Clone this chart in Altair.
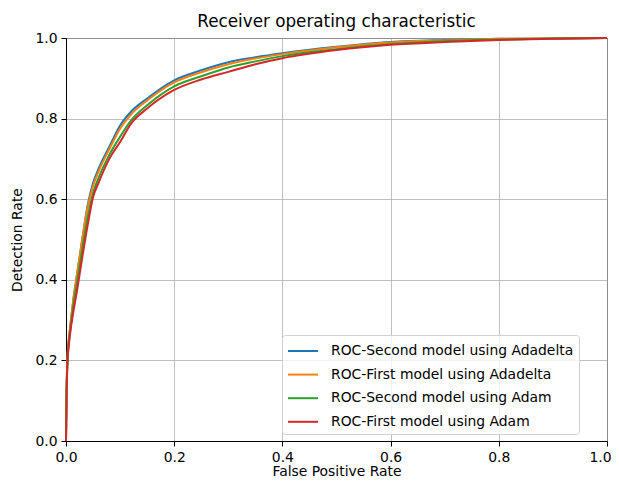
import altair as alt
import pandas as pd

fpr = [0, 0.001, 0.0025, 0.005, 0.0075, 0.01, 0.0135, 0.02, 0.03, 0.04, 0.05, 0.06, 0.08,
       0.10, 0.12, 0.15, 0.2, 0.25, 0.3, 0.35, 0.4, 0.5, 0.6, 0.7, 0.8, 0.9, 1.0]
tpr_second_adadelta = [0, 0.12, 0.20, 0.25, 0.28, 0.31, 0.35, 0.41, 0.50, 0.585, 0.64, 0.675, 0.73,
                       0.783, 0.817, 0.85, 0.895, 0.92, 0.94, 0.952, 0.962, 0.978, 0.99, 0.995,
                       0.998, 0.999, 1.0]
tpr_first_adadelta = [0, 0.12, 0.20, 0.25, 0.28, 0.31, 0.35, 0.41, 0.50, 0.58, 0.632, 0.668, 0.724,
                      0.775, 0.81, 0.845, 0.89, 0.915, 0.935, 0.949, 0.96, 0.977, 0.989, 0.994,
                      0.998, 0.999, 1.0]
tpr_second_adam = [0, 0.11, 0.19, 0.24, 0.27, 0.30, 0.335, 0.39, 0.475, 0.555, 0.615, 0.652, 0.71,
                   0.755, 0.795, 0.833, 0.88, 0.905, 0.927, 0.942, 0.955, 0.972, 0.985, 0.992,
                   0.996, 0.999, 1.0]
tpr_first_adam = [0, 0.11, 0.19, 0.235, 0.265, 0.29, 0.32, 0.37, 0.455, 0.535, 0.605, 0.64, 0.70,
                  0.742, 0.787, 0.825, 0.871, 0.897, 0.916, 0.935, 0.95, 0.97, 0.983, 0.99,
                  0.995, 0.998, 1.0]

series_names = ["ROC-Second model using Adadelta", "ROC-First model using Adadelta",
                "ROC-Second model using Adam", "ROC-First model using Adam"]
series_colors = ["#1f77b4", "#ff7f0e", "#2ca02c", "#d62728"]
series_values = [tpr_second_adadelta, tpr_first_adadelta, tpr_second_adam, tpr_first_adam]
tick_values = [0, 0.2, 0.4, 0.6, 0.8, 1.0]

rows = []
for name, vals in zip(series_names, series_values):
    for x, y in zip(fpr, vals):
        rows.append({"series": name, "fpr": x, "tpr": y})
df = pd.DataFrame(rows)

FONT = "DejaVu Sans"

x_enc = alt.X("fpr:Q", title="False Positive Rate",
              scale=alt.Scale(domain=[0, 1], nice=False, zero=False),
              axis=alt.Axis(values=tick_values, format=".1f", labelFlush=False,
                            labelAlign=alt.condition("datum.value == 1", alt.value("right"), alt.value("center")),
                            labelOffset=alt.condition("datum.value == 1", alt.value(4), alt.value(0))))
y_enc = alt.Y("tpr:Q", title="Detection Rate",
              scale=alt.Scale(domain=[0, 1], nice=False, zero=False),
              axis=alt.Axis(values=tick_values, format=".1f", labelFlush=False))
color_enc = alt.Color("series:N", sort=series_names,
                      scale=alt.Scale(domain=series_names, range=series_colors),
                      legend=alt.Legend(title=None, orient="none", legendX=216, legendY=297,
                                        symbolType="M-1,0L2,0", symbolSize=400,
                                        symbolStrokeWidth=2, labelLimit=0,
                                        labelFont=FONT, labelFontSize=13.9, labelColor="black",
                                        fillColor="rgba(255,255,255,0.8)", strokeColor="#d0d0d0",
                                        cornerRadius=3, padding=5, rowPadding=5.6, labelOffset=22))

layers = []
for name in series_names:
    layers.append(
        alt.Chart(df).transform_filter(alt.datum.series == name)
        .mark_line(strokeWidth=2, interpolate="monotone")
        .encode(x=x_enc, y=y_enc, color=color_enc, order="fpr:Q")
    )

chart = alt.layer(*layers).properties(
    width=541, height=403,
    title=alt.TitleParams("Receiver operating characteristic", font=FONT, fontSize=16.8,
                          fontWeight="normal", color="black", offset=0, frame="group"),
    autosize=alt.AutoSizeParams(type="none"),
    padding={"left": 58, "top": 30, "right": 4, "bottom": 38},
).configure_view(stroke="black", strokeWidth=1).configure_axis(
    grid=True, gridColor="#b0b0b0", gridWidth=0.8,
    domainColor="black", domainWidth=1, tickColor="black", tickSize=5,
    labelFont=FONT, labelFontSize=13.9, labelColor="black", labelPadding=4,
    titleFont=FONT, titleFontSize=13.9, titleFontWeight="normal", titleColor="black",
).configure_axisY(titlePadding=10).configure_axisX(titlePadding=1)

chart.save("out.html", embed_options={"renderer": "svg", "actions": False})
